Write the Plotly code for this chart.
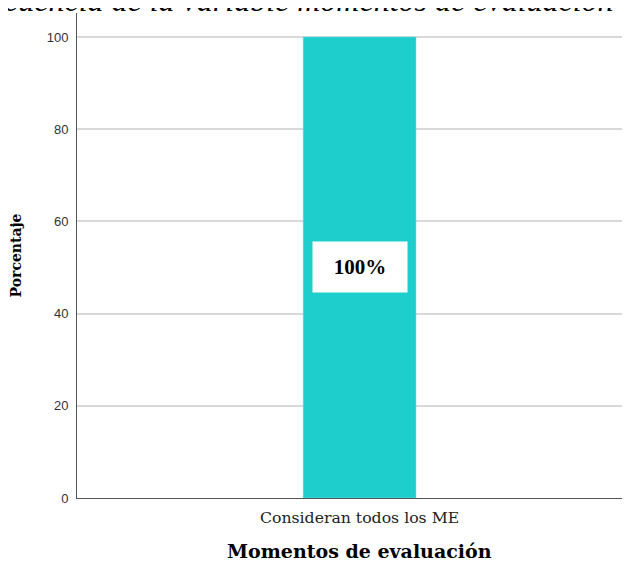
import plotly.graph_objects as go

categories = ["Consideran todos los ME"]
values = [100]
labels = ["100%"]
y_ticks = [0, 20, 40, 60, 80, 100]

title_text = "Frecuencia de la variable momentos de evaluación"
x_title = "Momentos de evaluación"
y_title = "Porcentaje"

fig = go.Figure()
fig.add_trace(go.Bar(
    x=[0], y=values, width=0.204,
    marker=dict(color="#1ECECC", line=dict(color="#6fe0de", width=0.5)),
    hoverinfo="skip",
))

for i, (v, lab) in enumerate(zip(values, labels)):
    fig.add_annotation(
        x=i, y=v / 2, xref="x", yref="y", text="<b>" + lab + "</b>",
        showarrow=False, bgcolor="white", width=92, height=48,
        font=dict(family="Liberation Serif", size=21, color="black"),
    )

# chart title (cut off at the top, as in the reference)
fig.add_annotation(
    xref="paper", yref="paper", x=1, y=1, xanchor="right", yanchor="bottom",
    xshift=-14, yshift=-7, text="<i>" + title_text + "</i>", showarrow=False,
    font=dict(family="Liberation Serif", size=32, color="black"),
)

# x axis title, centred under the bar
fig.add_annotation(
    xref="x", yref="paper", x=0, y=0, xanchor="center", yanchor="middle",
    yshift=-53, text="<b>" + x_title + "</b>", showarrow=False,
    font=dict(family="DejaVu Serif", size=19, color="black"),
)

fig.update_layout(
    width=622, height=557,
    margin=dict(l=69, r=0, t=5, b=67),
    paper_bgcolor="white", plot_bgcolor="white",
    showlegend=False,
    xaxis=dict(
        range=[-0.511, 0.489], tickmode="array", tickvals=[0], ticktext=categories,
        showgrid=False, showline=True, linecolor="#555555", linewidth=1,
        ticks="", zeroline=False, ticklabelstandoff=5,
        tickfont=dict(family="DejaVu Serif", size=15.7, color="#222222"),
    ),
    yaxis=dict(
        range=[0, 105.2], tickmode="array", tickvals=y_ticks,
        showgrid=True, gridcolor="#d9d9d9", gridwidth=1.5,
        showline=True, linecolor="#555555", linewidth=1,
        ticks="", zeroline=False, ticklabelstandoff=5,
        tickfont=dict(family="Liberation Sans", size=13, color="#333333"),
        title=dict(text="<b>" + y_title + "</b>", standoff=22,
                   font=dict(family="DejaVu Serif", size=14, color="black")),
    ),
)

fig.write_html("out.html")
